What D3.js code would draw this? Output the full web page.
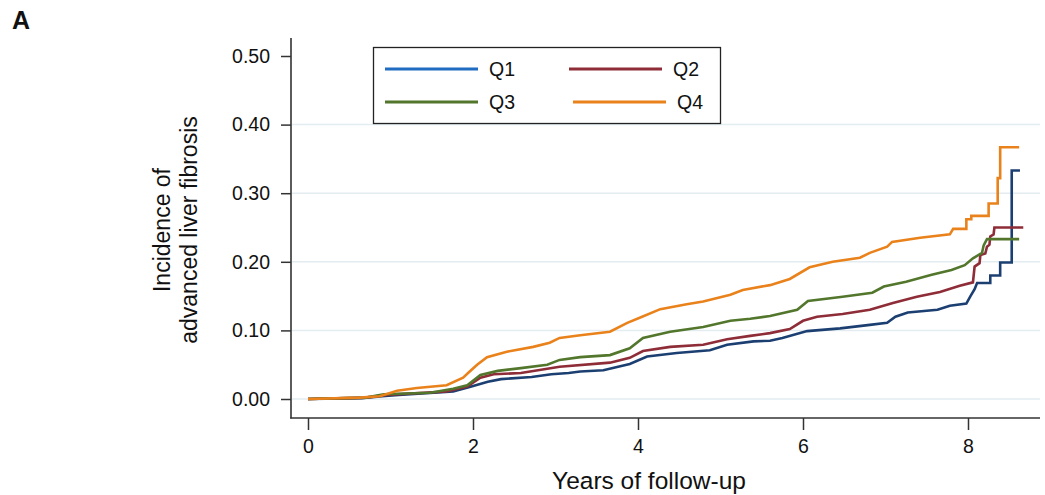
<!DOCTYPE html>
<html>
<head>
<meta charset="utf-8">
<script src="https://cdn.jsdelivr.net/npm/d3@7"></script>
<style>
  body { margin: 0; background: #fff; }
  text { font-family: "Liberation Sans", Arial, sans-serif; fill: #111; }
</style>
</head>
<body>
<div id="chart"></div>
<script>
// cumulative incidence, [years, value]
const q1 = [[0,0],[0.65,0.001],[0.9,0.004],[1.1,0.006],[1.76,0.011],[1.97,0.018],[2.18,0.025],[2.34,0.029],[2.71,0.032],[2.95,0.036],[3.16,0.038],[3.3,0.040],[3.58,0.042],[3.9,0.051],[4.11,0.062],[4.47,0.067],[4.87,0.071],[5.08,0.079],[5.4,0.084],[5.6,0.085],[5.75,0.089],[6.05,0.099],[6.45,0.103],[6.81,0.108],[7.02,0.111],[7.12,0.120],[7.27,0.126],[7.63,0.130],[7.78,0.136],[7.98,0.139],[8.03,0.150],[8.08,0.160],[8.11,0.169],[8.27,0.169],[8.27,0.180],[8.39,0.180],[8.39,0.199],[8.53,0.199],[8.53,0.333],[8.63,0.333]];
const q2 = [[0,0],[0.7,0.002],[0.95,0.006],[1.68,0.011],[1.93,0.018],[2.09,0.031],[2.25,0.036],[2.58,0.038],[2.9,0.044],[3.05,0.047],[3.66,0.053],[3.9,0.060],[4.06,0.070],[4.39,0.076],[4.79,0.079],[5.08,0.087],[5.36,0.092],[5.6,0.096],[5.84,0.102],[6.0,0.114],[6.17,0.120],[6.48,0.124],[6.81,0.130],[7.09,0.140],[7.38,0.149],[7.66,0.156],[7.9,0.165],[8.06,0.170],[8.08,0.193],[8.14,0.198],[8.15,0.210],[8.21,0.212],[8.23,0.222],[8.26,0.225],[8.27,0.237],[8.31,0.240],[8.32,0.250],[8.67,0.250]];
const q3 = [[0,0],[0.7,0.002],[0.92,0.007],[1.48,0.009],[1.76,0.015],[1.93,0.020],[2.09,0.035],[2.3,0.041],[2.58,0.045],[2.9,0.050],[3.05,0.057],[3.3,0.061],[3.66,0.064],[3.9,0.074],[4.06,0.089],[4.39,0.098],[4.79,0.105],[5.12,0.114],[5.36,0.117],[5.6,0.121],[5.93,0.130],[6.06,0.143],[6.48,0.149],[6.84,0.155],[6.98,0.164],[7.25,0.171],[7.56,0.181],[7.8,0.188],[7.96,0.195],[8.06,0.205],[8.17,0.213],[8.19,0.224],[8.23,0.233],[8.62,0.233]];
const q4 = [[0,0],[0.63,0.002],[0.87,0.004],[1.08,0.012],[1.32,0.016],[1.68,0.020],[1.88,0.031],[1.96,0.040],[2.05,0.050],[2.17,0.061],[2.41,0.069],[2.73,0.076],[2.93,0.082],[3.05,0.089],[3.3,0.093],[3.66,0.098],[3.87,0.111],[4.05,0.120],[4.27,0.131],[4.59,0.138],[4.79,0.142],[5.12,0.152],[5.27,0.159],[5.6,0.166],[5.84,0.175],[6.08,0.192],[6.36,0.200],[6.69,0.206],[6.81,0.213],[7.02,0.222],[7.08,0.229],[7.42,0.235],[7.78,0.240],[7.82,0.248],[7.98,0.248],[7.98,0.262],[8.04,0.262],[8.04,0.267],[8.25,0.267],[8.25,0.285],[8.36,0.285],[8.36,0.322],[8.39,0.322],[8.39,0.367],[8.62,0.367]];

const groups = ["Q1", "Q2", "Q3", "Q4"];
const seriesData = [q1, q2, q3, q4];
const lineColors = ["#1c3f72", "#8e2c37", "#52772c", "#ea821c"];
const legendColors = ["#1f6cc0", "#8e2c37", "#52772c", "#ea821c"];
const xTicks = [0, 2, 4, 6, 8];
const yTicks = [0, 0.1, 0.2, 0.3, 0.4, 0.5];
const gridTicks = [0, 0.1, 0.2, 0.3, 0.4];

const W = 1045, H = 495;
const svg = d3.select("#chart").append("svg").attr("width", W).attr("height", H);

const x = d3.scaleLinear().domain([0, 8]).range([308, 968]);
const y = d3.scaleLinear().domain([0, 0.5]).range([399, 56]);
const axisX = 291, axisY = 418;

// gridlines
svg.append("g").selectAll("line")
  .data(gridTicks)
  .join("line")
    .attr("x1", axisX + 1).attr("x2", 1040)
    .attr("y1", d => y(d)).attr("y2", d => y(d))
    .attr("stroke", "#e3ecf0").attr("stroke-width", 1.5);

// y axis
const gy = svg.append("g")
  .attr("transform", "translate(" + axisX + ",0)")
  .call(d3.axisLeft(y).tickValues(yTicks).tickFormat(d3.format(".2f")).tickSize(10).tickPadding(11).tickSizeOuter(0));
gy.select(".domain").remove();
gy.append("line").attr("x1", 0).attr("x2", 0).attr("y1", 38).attr("y2", axisY + 0.5)
  .attr("stroke", "#333").attr("stroke-width", 1.6);
gy.selectAll(".tick line").attr("stroke", "#333").attr("stroke-width", 1.5);
gy.selectAll(".tick text").style("font-size", "19.5px").attr("fill", "#111");

// x axis
const gx = svg.append("g")
  .attr("transform", "translate(0," + axisY + ")")
  .call(d3.axisBottom(x).tickValues(xTicks).tickFormat(d3.format("d")).tickSize(12).tickPadding(9).tickSizeOuter(0));
gx.select(".domain").remove();
gx.append("line").attr("x1", axisX - 0.8).attr("x2", 1040).attr("y1", 0).attr("y2", 0)
  .attr("stroke", "#333").attr("stroke-width", 1.6);
gx.selectAll(".tick line").attr("stroke", "#333").attr("stroke-width", 1.5);
gx.selectAll(".tick text").style("font-size", "19.5px").attr("fill", "#111");

// curves
const line = d3.line().x(d => x(d[0])).y(d => y(d[1])).curve(d3.curveLinear);
svg.append("g").selectAll("path")
  .data(seriesData)
  .join("path")
    .attr("d", line)
    .attr("fill", "none")
    .attr("stroke", (d, i) => lineColors[i])
    .attr("stroke-width", 2.6)
    .attr("stroke-linejoin", "miter");

// legend
const lg = svg.append("g");
lg.append("rect").attr("x", 373.5).attr("y", 47.5).attr("width", 347).attr("height", 76)
  .attr("fill", "#fff").attr("stroke", "#222").attr("stroke-width", 1.3);
const legPos = [[385, 69], [569, 69], [385, 102], [573, 102]];
groups.forEach((g, i) => {
  const [lx, ly] = legPos[i];
  lg.append("line").attr("x1", lx).attr("x2", lx + 93).attr("y1", ly).attr("y2", ly)
    .attr("stroke", legendColors[i]).attr("stroke-width", 3);
  lg.append("text").attr("x", lx + 104).attr("y", ly).attr("dy", "0.35em")
    .style("font-size", "19.5px").text(g);
});

// axis titles
svg.append("text").attr("x", 649).attr("y", 489).attr("text-anchor", "middle")
  .style("font-size", "24.5px").text("Years of follow-up");
svg.append("text").attr("transform", "translate(170,230) rotate(-90)").attr("text-anchor", "middle")
  .style("font-size", "23px").text("Incidence of");
svg.append("text").attr("transform", "translate(197,230) rotate(-90)").attr("text-anchor", "middle")
  .style("font-size", "23px").text("advanced liver fibrosis");

// panel letter
svg.append("text").attr("x", 12).attr("y", 29).style("font-size", "25px").style("font-weight", "bold").text("A");
</script>
</body>
</html>
